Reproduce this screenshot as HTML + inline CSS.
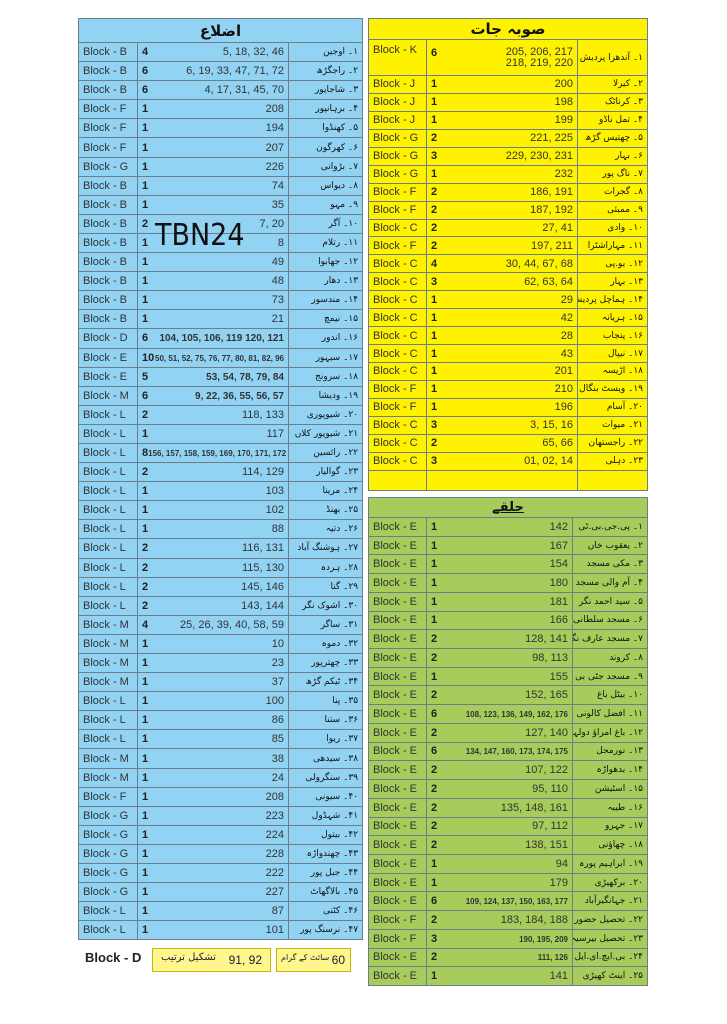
<!DOCTYPE html>
<html><head><meta charset="utf-8">
<style>
body{margin:0;width:727px;height:1024px;background:#fff;position:relative;overflow:hidden;font-family:"Liberation Sans","DejaVu Sans",sans-serif;}
table{position:absolute;border-collapse:collapse;table-layout:fixed;}
td{border:1px solid #6a7f8a;padding:0 4px;font-size:11px;color:#333;white-space:nowrap;overflow:hidden;}
.L{left:78px;top:18px;width:284px;background:#92d3f3;}
.Y{left:368px;top:18px;width:279px;background:#fff200;}
.G{left:368px;top:497px;width:279px;background:#a7cc5c;}
.L tr{height:19.1px}
.Y tr{height:17.95px}
.G tr{height:18.72px}
td.h{text-align:center;font-family:"DejaVu Sans",sans-serif;font-size:15px;font-weight:bold;color:#111;}
td.n b{float:left;color:#222;}
td.n{text-align:right;}
td.s span{font-size:8px;font-weight:bold;}
td.u{direction:rtl;text-align:right;font-family:"DejaVu Sans",sans-serif;font-size:9px;color:#111;}
.wm{position:absolute;left:155px;top:218px;font-size:30px;color:#111;font-family:"DejaVu Sans Condensed","DejaVu Sans",sans-serif;font-weight:300;}
.bx{position:absolute;background:#fff68f;border:1px solid #c9b800;font-size:12px;color:#222;}
</style></head><body>
<table class="L">
<col style="width:59px"><col style="width:151px"><col style="width:74px">
<tr style="height:24px"><td colspan="3" class="h">اضلاع</td></tr>
<tr><td>Block - B</td><td class="n"><b>4</b><span>5, 18, 32, 46</span></td><td class="u">۱۔ اوجین</td></tr>
<tr><td>Block - B</td><td class="n"><b>6</b><span>6, 19, 33, 47, 71, 72</span></td><td class="u">۲۔ راجگڑھ</td></tr>
<tr><td>Block - B</td><td class="n"><b>6</b><span>4, 17, 31, 45, 70</span></td><td class="u">۳۔ شاجاپور</td></tr>
<tr><td>Block - F</td><td class="n"><b>1</b><span>208</span></td><td class="u">۴۔ برہانپور</td></tr>
<tr><td>Block - F</td><td class="n"><b>1</b><span>194</span></td><td class="u">۵۔ کھنڈوا</td></tr>
<tr><td>Block - F</td><td class="n"><b>1</b><span>207</span></td><td class="u">۶۔ کھرگون</td></tr>
<tr><td>Block - G</td><td class="n"><b>1</b><span>226</span></td><td class="u">۷۔ بڑوانی</td></tr>
<tr><td>Block - B</td><td class="n"><b>1</b><span>74</span></td><td class="u">۸۔ دیواس</td></tr>
<tr><td>Block - B</td><td class="n"><b>1</b><span>35</span></td><td class="u">۹۔ مہو</td></tr>
<tr><td>Block - B</td><td class="n"><b>2</b><span>7, 20</span></td><td class="u">۱۰۔ آگر</td></tr>
<tr><td>Block - B</td><td class="n"><b>1</b><span>8</span></td><td class="u">۱۱۔ رتلام</td></tr>
<tr><td>Block - B</td><td class="n"><b>1</b><span>49</span></td><td class="u">۱۲۔ جھابوا</td></tr>
<tr><td>Block - B</td><td class="n"><b>1</b><span>48</span></td><td class="u">۱۳۔ دھار</td></tr>
<tr><td>Block - B</td><td class="n"><b>1</b><span>73</span></td><td class="u">۱۴۔ مندسور</td></tr>
<tr><td>Block - B</td><td class="n"><b>1</b><span>21</span></td><td class="u">۱۵۔ نیمچ</td></tr>
<tr><td>Block - D</td><td class="n"><b>6</b><span style="font-weight:bold;font-size:10px">104, 105, 106, 119 120, 121</span></td><td class="u">۱۶۔ اندور</td></tr>
<tr><td>Block - E</td><td class="n s"><b>10</b><span>50, 51, 52, 75, 76, 77, 80, 81, 82, 96</span></td><td class="u">۱۷۔ سیہور</td></tr>
<tr><td>Block - E</td><td class="n"><b>5</b><span style="font-weight:bold;font-size:10px">53, 54, 78, 79, 84</span></td><td class="u">۱۸۔ سرونج</td></tr>
<tr><td>Block - M</td><td class="n"><b>6</b><span style="font-weight:bold;font-size:10px">9, 22, 36, 55, 56, 57</span></td><td class="u">۱۹۔ ودیشا</td></tr>
<tr><td>Block - L</td><td class="n"><b>2</b><span>118, 133</span></td><td class="u">۲۰۔ شیوپوری</td></tr>
<tr><td>Block - L</td><td class="n"><b>1</b><span>117</span></td><td class="u">۲۱۔ شیوپور کلاں</td></tr>
<tr><td>Block - L</td><td class="n s"><b>8</b><span>156, 157, 158, 159, 169, 170, 171, 172</span></td><td class="u">۲۲۔ رائسین</td></tr>
<tr><td>Block - L</td><td class="n"><b>2</b><span>114, 129</span></td><td class="u">۲۳۔ گوالیار</td></tr>
<tr><td>Block - L</td><td class="n"><b>1</b><span>103</span></td><td class="u">۲۴۔ مرینا</td></tr>
<tr><td>Block - L</td><td class="n"><b>1</b><span>102</span></td><td class="u">۲۵۔ بھنڈ</td></tr>
<tr><td>Block - L</td><td class="n"><b>1</b><span>88</span></td><td class="u">۲۶۔ دتیہ</td></tr>
<tr><td>Block - L</td><td class="n"><b>2</b><span>116, 131</span></td><td class="u">۲۷۔ ہوشنگ آباد</td></tr>
<tr><td>Block - L</td><td class="n"><b>2</b><span>115, 130</span></td><td class="u">۲۸۔ ہردہ</td></tr>
<tr><td>Block - L</td><td class="n"><b>2</b><span>145, 146</span></td><td class="u">۲۹۔ گنا</td></tr>
<tr><td>Block - L</td><td class="n"><b>2</b><span>143, 144</span></td><td class="u">۳۰۔ اشوک نگر</td></tr>
<tr><td>Block - M</td><td class="n"><b>4</b><span>25, 26, 39, 40, 58, 59</span></td><td class="u">۳۱۔ ساگر</td></tr>
<tr><td>Block - M</td><td class="n"><b>1</b><span>10</span></td><td class="u">۳۲۔ دموہ</td></tr>
<tr><td>Block - M</td><td class="n"><b>1</b><span>23</span></td><td class="u">۳۳۔ چھترپور</td></tr>
<tr><td>Block - M</td><td class="n"><b>1</b><span>37</span></td><td class="u">۳۴۔ ٹیکم گڑھ</td></tr>
<tr><td>Block - L</td><td class="n"><b>1</b><span>100</span></td><td class="u">۳۵۔ پنا</td></tr>
<tr><td>Block - L</td><td class="n"><b>1</b><span>86</span></td><td class="u">۳۶۔ ستنا</td></tr>
<tr><td>Block - L</td><td class="n"><b>1</b><span>85</span></td><td class="u">۳۷۔ ریوا</td></tr>
<tr><td>Block - M</td><td class="n"><b>1</b><span>38</span></td><td class="u">۳۸۔ سیدھی</td></tr>
<tr><td>Block - M</td><td class="n"><b>1</b><span>24</span></td><td class="u">۳۹۔ سنگرولی</td></tr>
<tr><td>Block - F</td><td class="n"><b>1</b><span>208</span></td><td class="u">۴۰۔ سیونی</td></tr>
<tr><td>Block - G</td><td class="n"><b>1</b><span>223</span></td><td class="u">۴۱۔ شہڈول</td></tr>
<tr><td>Block - G</td><td class="n"><b>1</b><span>224</span></td><td class="u">۴۲۔ بیتول</td></tr>
<tr><td>Block - G</td><td class="n"><b>1</b><span>228</span></td><td class="u">۴۳۔ چھندواڑہ</td></tr>
<tr><td>Block - G</td><td class="n"><b>1</b><span>222</span></td><td class="u">۴۴۔ جبل پور</td></tr>
<tr><td>Block - G</td><td class="n"><b>1</b><span>227</span></td><td class="u">۴۵۔ بالاگھاٹ</td></tr>
<tr><td>Block - L</td><td class="n"><b>1</b><span>87</span></td><td class="u">۴۶۔ کٹنی</td></tr>
<tr><td>Block - L</td><td class="n"><b>1</b><span>101</span></td><td class="u">۴۷۔ نرسنگ پور</td></tr>
</table>
<div class="wm">TBN24</div>

<table class="Y">
<col style="width:58px"><col style="width:151px"><col style="width:70px">
<tr style="height:21px"><td colspan="3" class="h">صوبہ جات</td></tr>
<tr style="height:36px"><td style="vertical-align:top;padding-top:4px">Block - K</td><td class="n"><b>6</b><span style="display:inline-block;line-height:11px">205, 206, 217<br>218, 219, 220</span></td><td class="u">۱۔ آندھرا پردیش</td></tr>
<tr><td>Block - J</td><td class="n"><b>1</b><span>200</span></td><td class="u">۲۔ کیرلا</td></tr>
<tr><td>Block - J</td><td class="n"><b>1</b><span>198</span></td><td class="u">۳۔ کرناٹک</td></tr>
<tr><td>Block - J</td><td class="n"><b>1</b><span>199</span></td><td class="u">۴۔ تمل ناڈو</td></tr>
<tr><td>Block - G</td><td class="n"><b>2</b><span>221, 225</span></td><td class="u">۵۔ چھتیس گڑھ</td></tr>
<tr><td>Block - G</td><td class="n"><b>3</b><span>229, 230, 231</span></td><td class="u">۶۔ بہار</td></tr>
<tr><td>Block - G</td><td class="n"><b>1</b><span>232</span></td><td class="u">۷۔ ناگ پور</td></tr>
<tr><td>Block - F</td><td class="n"><b>2</b><span>186, 191</span></td><td class="u">۸۔ گجرات</td></tr>
<tr><td>Block - F</td><td class="n"><b>2</b><span>187, 192</span></td><td class="u">۹۔ ممبئی</td></tr>
<tr><td>Block - C</td><td class="n"><b>2</b><span>27, 41</span></td><td class="u">۱۰۔ وادی</td></tr>
<tr><td>Block - F</td><td class="n"><b>2</b><span>197, 211</span></td><td class="u">۱۱۔ مہاراشٹرا</td></tr>
<tr><td>Block - C</td><td class="n"><b>4</b><span>30, 44, 67, 68</span></td><td class="u">۱۲۔ یو.پی</td></tr>
<tr><td>Block - C</td><td class="n"><b>3</b><span>62, 63, 64</span></td><td class="u">۱۳۔ بہار</td></tr>
<tr><td>Block - C</td><td class="n"><b>1</b><span>29</span></td><td class="u">۱۴۔ ہماچل پردیش</td></tr>
<tr><td>Block - C</td><td class="n"><b>1</b><span>42</span></td><td class="u">۱۵۔ ہریانہ</td></tr>
<tr><td>Block - C</td><td class="n"><b>1</b><span>28</span></td><td class="u">۱۶۔ پنجاب</td></tr>
<tr><td>Block - C</td><td class="n"><b>1</b><span>43</span></td><td class="u">۱۷۔ نیپال</td></tr>
<tr><td>Block - C</td><td class="n"><b>1</b><span>201</span></td><td class="u">۱۸۔ اڑیسہ</td></tr>
<tr><td>Block - F</td><td class="n"><b>1</b><span>210</span></td><td class="u">۱۹۔ ویسٹ بنگال</td></tr>
<tr><td>Block - F</td><td class="n"><b>1</b><span>196</span></td><td class="u">۲۰۔ آسام</td></tr>
<tr><td>Block - C</td><td class="n"><b>3</b><span>3, 15, 16</span></td><td class="u">۲۱۔ میوات</td></tr>
<tr><td>Block - C</td><td class="n"><b>2</b><span>65, 66</span></td><td class="u">۲۲۔ راجستھان</td></tr>
<tr><td>Block - C</td><td class="n"><b>3</b><span>01, 02, 14</span></td><td class="u">۲۳۔ دہلی</td></tr>
<tr style="height:20px"><td></td><td></td><td></td></tr>
</table>

<table class="G">
<col style="width:58px"><col style="width:146px"><col style="width:75px">
<tr style="height:20px"><td colspan="3" class="h" style="font-size:13px;text-decoration:underline">حلقے</td></tr>
<tr><td>Block - E</td><td class="n"><b>1</b><span>142</span></td><td class="u">۱۔ پی.جی.بی.ٹی</td></tr>
<tr><td>Block - E</td><td class="n"><b>1</b><span>167</span></td><td class="u">۲۔ یعقوب خاں</td></tr>
<tr><td>Block - E</td><td class="n"><b>1</b><span>154</span></td><td class="u">۳۔ مکی مسجد</td></tr>
<tr><td>Block - E</td><td class="n"><b>1</b><span>180</span></td><td class="u">۴۔ آم والی مسجد</td></tr>
<tr><td>Block - E</td><td class="n"><b>1</b><span>181</span></td><td class="u">۵۔ سید احمد نگر</td></tr>
<tr><td>Block - E</td><td class="n"><b>1</b><span>166</span></td><td class="u">۶۔ مسجد سلطانی</td></tr>
<tr><td>Block - E</td><td class="n"><b>2</b><span>128, 141</span></td><td class="u">۷۔ مسجد عارف نگر</td></tr>
<tr><td>Block - E</td><td class="n"><b>2</b><span>98, 113</span></td><td class="u">۸۔ کروند</td></tr>
<tr><td>Block - E</td><td class="n"><b>1</b><span>155</span></td><td class="u">۹۔ مسجد جٹی بی</td></tr>
<tr><td>Block - E</td><td class="n"><b>2</b><span>152, 165</span></td><td class="u">۱۰۔ بیٹل باغ</td></tr>
<tr><td>Block - E</td><td class="n s"><b>6</b><span>108, 123, 136, 149, 162, 176</span></td><td class="u">۱۱۔ افضل کالونی</td></tr>
<tr><td>Block - E</td><td class="n"><b>2</b><span>127, 140</span></td><td class="u">۱۲۔ باغ امراؤ دولہا</td></tr>
<tr><td>Block - E</td><td class="n s"><b>6</b><span>134, 147, 160, 173, 174, 175</span></td><td class="u">۱۳۔ نورمحل</td></tr>
<tr><td>Block - E</td><td class="n"><b>2</b><span>107, 122</span></td><td class="u">۱۴۔ بدھواڑہ</td></tr>
<tr><td>Block - E</td><td class="n"><b>2</b><span>95, 110</span></td><td class="u">۱۵۔ اسٹیشن</td></tr>
<tr><td>Block - E</td><td class="n"><b>2</b><span>135, 148, 161</span></td><td class="u">۱۶۔ طیبہ</td></tr>
<tr><td>Block - E</td><td class="n"><b>2</b><span>97, 112</span></td><td class="u">۱۷۔ جہرو</td></tr>
<tr><td>Block - E</td><td class="n"><b>2</b><span>138, 151</span></td><td class="u">۱۸۔ چھاؤنی</td></tr>
<tr><td>Block - E</td><td class="n"><b>1</b><span>94</span></td><td class="u">۱۹۔ ابراہیم پورہ</td></tr>
<tr><td>Block - E</td><td class="n"><b>1</b><span>179</span></td><td class="u">۲۰۔ برکھیڑی</td></tr>
<tr><td>Block - E</td><td class="n s"><b>6</b><span>109, 124, 137, 150, 163, 177</span></td><td class="u">۲۱۔ جہانگیرآباد</td></tr>
<tr><td>Block - F</td><td class="n"><b>2</b><span>183, 184, 188</span></td><td class="u">۲۲۔ تحصیل حضور</td></tr>
<tr><td>Block - F</td><td class="n s"><b>3</b><span>190, 195, 209</span></td><td class="u">۲۳۔ تحصیل بیرسیہ</td></tr>
<tr><td>Block - E</td><td class="n s"><b>2</b><span>111, 126</span></td><td class="u">۲۴۔ بی.ایچ.ای.ایل</td></tr>
<tr><td>Block - E</td><td class="n"><b>1</b><span>141</span></td><td class="u">۲۵۔ اینٹ کھیڑی</td></tr>
</table>

<div style="position:absolute;left:85px;top:950px;font-size:13px;font-weight:bold;color:#222">Block - D</div>
<div class="bx" style="left:152px;top:948px;width:117px;height:22px;">
<span style="position:absolute;left:8px;top:3px;font-family:'DejaVu Sans',sans-serif;font-size:10px" dir="rtl">تشکیل ترتیب</span>
<span style="position:absolute;right:8px;top:4px">91, 92</span></div>
<div class="bx" style="left:276px;top:948px;width:73px;height:22px;">
<span style="position:absolute;left:4px;top:4px;font-family:'DejaVu Sans',sans-serif;font-size:8px" dir="rtl">سائٹ کے گرام</span>
<span style="position:absolute;right:5px;top:4px">60</span></div>
</body></html>
